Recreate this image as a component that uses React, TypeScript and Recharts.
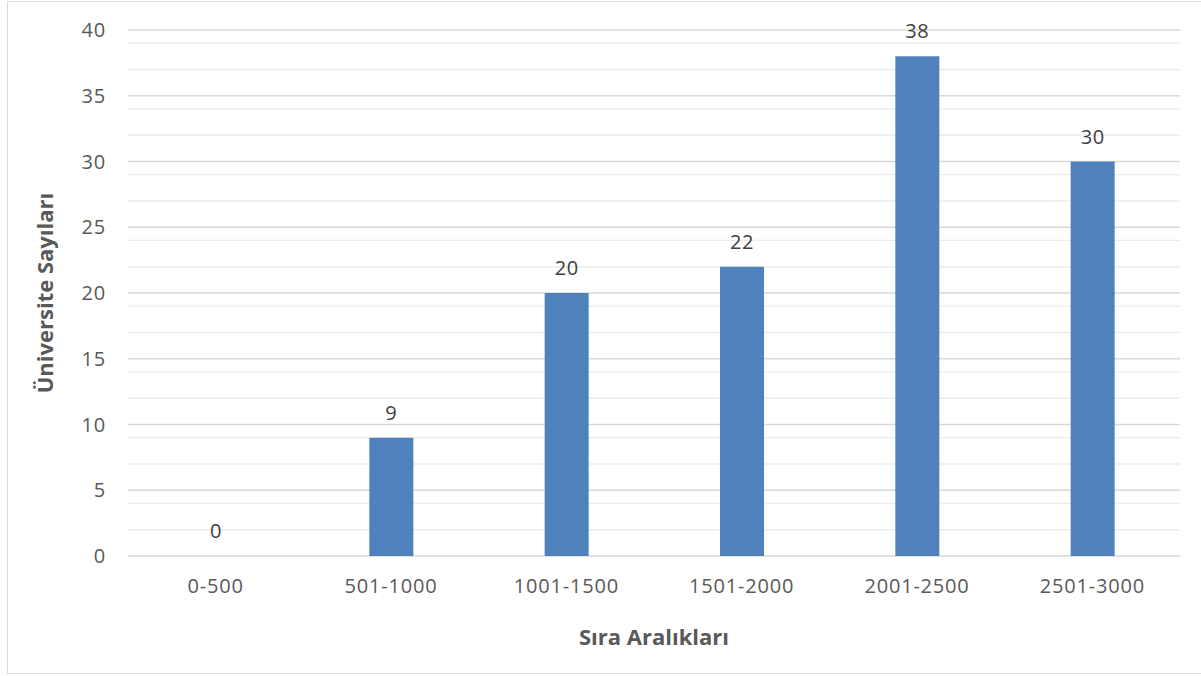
import { BarChart, Bar, XAxis, YAxis, CartesianGrid, LabelList, Rectangle } from "recharts";

const categories = ["0-500", "501-1000", "1001-1500", "1501-2000", "2001-2500", "2501-3000"];
const counts = [0, 9, 20, 22, 38, 30];
const majorTicks = [0, 5, 10, 15, 20, 25, 30, 35, 40];
const minorTicks = [
  1, 2, 3, 4, 6, 7, 8, 9, 11, 12, 13, 14, 16, 17, 18, 19, 21, 22, 23, 24, 26, 27, 28, 29, 31, 32, 33,
  34, 36, 37, 38, 39,
];

const data = categories.map((range, i) => ({ range, count: counts[i] }));

const font = "'Open Sans', 'Noto Sans', sans-serif";

// always draw the value, even for the empty 0-500 bar
const ValueLabel = (props: any) => {
  const { x, y, width, value } = props;
  return (
    <text
      x={Number(x) + Number(width) / 2}
      y={Number(y) - 18}
      textAnchor="middle"
      fill="#404040"
      fontSize={20}
      fontFamily={font}
      letterSpacing={0.6}
    >
      {value}
    </text>
  );
};

// zero bars get a tiny min size so their label is kept, but nothing is painted
const BarShape = (props: any) => {
  if (!props.payload || props.payload.count === 0) return <g />;
  return <Rectangle {...props} />;
};

export default function App() {
  return (
    <div
      style={{
        position: "fixed",
        left: 0,
        top: 0,
        width: 1201,
        height: 676,
        background: "#fff",
        fontFamily: font,
        overflow: "hidden",
      }}
    >
      <div
        style={{
          position: "absolute",
          left: 7,
          top: 1,
          width: 1210,
          height: 671,
          border: "1px solid #d9d9d9",
        }}
      />
      <div style={{ position: "absolute", left: 0, top: 0 }}>
        <BarChart
          width={1201}
          height={676}
          data={data}
          margin={{ top: 30, right: 21, bottom: 0, left: 0 }}
        >
          <CartesianGrid vertical={false} horizontalValues={minorTicks} stroke="#ececec" strokeWidth={1.4} />
          <CartesianGrid vertical={false} horizontalValues={majorTicks} stroke="#d9d9d9" strokeWidth={1.4} />
          <XAxis
            dataKey="range"
            height={120}
            axisLine={false}
            tickLine={false}
            tickSize={0}
            tickMargin={23}
            tick={{ fill: "#595959", fontSize: 20, fontFamily: font, letterSpacing: 0.8 }}
            label={{
              value: "Sıra Aralıkları",
              position: "insideBottom",
              offset: 31,
              fill: "#595959",
              fontSize: 22,
              fontWeight: 700,
              fontFamily: font,
            }}
          />
          <YAxis
            width={128}
            domain={[0, 40]}
            ticks={majorTicks}
            axisLine={false}
            tickLine={false}
            tickSize={0}
            tickMargin={22}
            tick={{ fill: "#595959", fontSize: 20, fontFamily: font, letterSpacing: 0.8 }}
            label={{
              value: "Üniversite Sayıları",
              angle: -90,
              position: "insideLeft",
              offset: 45,
              fill: "#595959",
              fontSize: 22,
              fontWeight: 700,
              fontFamily: font,
              style: { textAnchor: "middle" },
            }}
          />
          <Bar
            dataKey="count"
            fill="#4f81bd"
            barSize={44}
            minPointSize={(v: number) => (v === 0 ? 0.01 : 0)}
            shape={BarShape}
            isAnimationActive={false}
          >
            <LabelList dataKey="count" content={ValueLabel} />
          </Bar>
        </BarChart>
      </div>
    </div>
  );
}
